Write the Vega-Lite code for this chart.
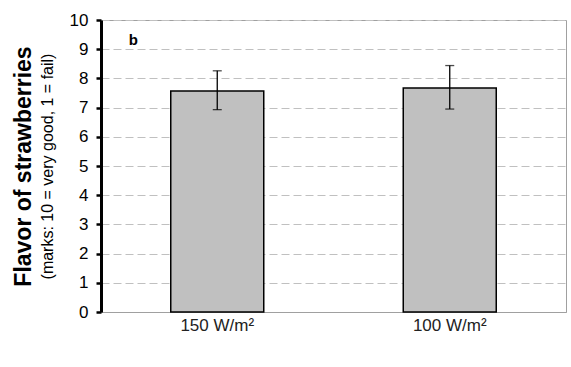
{
  "$schema": "https://vega.github.io/schema/vega-lite/v6.json",
  "width": 465,
  "height": 292,
  "autosize": {"type": "none"},
  "padding": {"left": 101, "top": 20, "right": 5, "bottom": 55},
  "background": "white",
  "config": {
    "font": "Liberation Sans",
    "view": {"stroke": "#a0a0a0", "strokeWidth": 1}
  },
  "data": {
    "values": [
      {"group": "150 W/m²", "mean": 7.57, "lo": 6.93, "hi": 8.26},
      {"group": "100 W/m²", "mean": 7.67, "lo": 6.95, "hi": 8.44}
    ]
  },
  "encoding": {
    "x": {
      "field": "group",
      "type": "nominal",
      "sort": null,
      "scale": {"paddingInner": 0, "paddingOuter": 0},
      "axis": {
        "title": null,
        "labelAngle": 0,
        "labelFontSize": 17,
        "labelColor": "#222",
        "labelPadding": 5,
        "ticks": false,
        "domainColor": "#a0a0a0",
        "domainWidth": 1
      }
    }
  },
  "layer": [
    {
      "mark": {"type": "bar", "fill": "#c0c0c0", "stroke": "black", "strokeWidth": 1.5, "width": {"band": 0.4}},
      "encoding": {
        "y": {
          "field": "mean",
          "type": "quantitative",
          "scale": {"domain": [0, 10], "nice": false},
          "axis": {
            "orient": "left",
            "values": [0,1,2,3,4,5,6,7,8,9,10],
            "title": "(marks: 10 = very good, 1 = fail)",
            "titleFontSize": 16,
            "titleFontWeight": "normal",
            "titleColor": "black",
            "titlePadding": 14,
            "labelFontSize": 17,
            "labelColor": "black",
            "labelPadding": 8,
            "tickSize": 5,
            "tickWidth": 2.5,
            "tickColor": "black",
            "domainColor": "black",
            "domainWidth": 3,
            "grid": true,
            "gridColor": "#c0c0c0",
            "gridDash": [8, 4],
            "gridWidth": 1
          }
        }
      }
    },
    {
      "mark": {"type": "rule", "color": "black", "strokeWidth": 1.3},
      "encoding": {
        "y": {
          "field": "lo",
          "type": "quantitative",
          "axis": {
            "orient": "left",
            "labels": false,
            "ticks": false,
            "domain": false,
            "grid": false,
            "title": "Flavor of strawberries",
            "titleFontSize": 23,
            "titleFontWeight": "bold",
            "titleColor": "black",
            "titlePadding": 66
          }
        },
        "y2": {"field": "hi"}
      }
    },
    {
      "mark": {"type": "tick", "orient": "horizontal", "color": "black", "size": 9, "thickness": 1.3},
      "encoding": {"y": {"field": "lo", "type": "quantitative", "axis": null}}
    },
    {
      "mark": {"type": "tick", "orient": "horizontal", "color": "black", "size": 9, "thickness": 1.3},
      "encoding": {"y": {"field": "hi", "type": "quantitative", "axis": null}}
    },
    {
      "data": {"values": [{"label": "b", "group": "150 W/m²", "pos": 9.3}]},
      "mark": {"type": "text", "fontWeight": "bold", "fontSize": 15, "dx": -84, "color": "black"},
      "encoding": {
        "text": {"field": "label"},
        "y": {"field": "pos", "type": "quantitative", "axis": null}
      }
    }
  ],
  "resolve": {"axis": {"y": "independent"}}
}
